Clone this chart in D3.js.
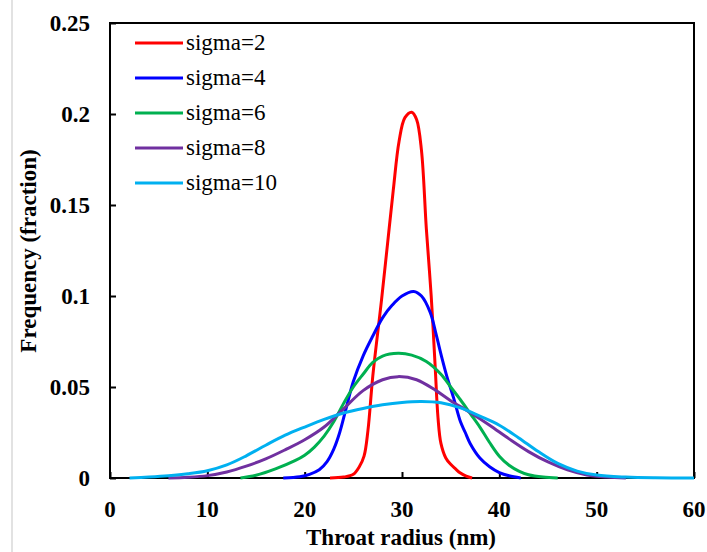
<!DOCTYPE html>
<html>
<head>
<meta charset="utf-8">
<script src="https://cdn.jsdelivr.net/npm/d3@7"></script>
<style>
  body { margin: 0; background: #fff; }
  svg { display: block; }
  .tick-label { font-family: "Liberation Serif", "Times New Roman", serif; font-weight: bold; font-size: 23px; fill: #000; }
  .axis-title { font-family: "Liberation Serif", "Times New Roman", serif; font-weight: bold; font-size: 23px; fill: #000; }
  .legend-label { font-family: "Liberation Serif", "Times New Roman", serif; font-size: 23px; fill: #000; }
</style>
</head>
<body>
<div id="chart"></div>
<script>
// values: [throat radius (nm), frequency]
const sigma2 = [[22.6,0],[24,0.0005],[25,0.002],[25.6,0.006],[26.1,0.012],[26.5,0.026],[27,0.056],[27.9,0.098],
  [28.5,0.128],[29.1,0.158],[29.7,0.185],[30.3,0.198],[31,0.201],[31.5,0.197],[32,0.18],[32.5,0.137],[33,0.1],
  [33.4,0.062],[33.7,0.033],[34,0.019],[34.5,0.011],[35,0.0075],[35.5,0.005],[36,0.0027],[36.6,0.001],[37.2,0]];
const sigma4 = [[17.8,0],[19.5,0.0007],[20.5,0.002],[21.5,0.0045],[22.3,0.009],[23,0.016],[23.6,0.025],
  [24.2,0.037],[25,0.053],[26,0.067],[27,0.078],[28,0.088],[29,0.095],[30,0.1],[31.2,0.1025],[32,0.1],
  [32.9,0.091],[33.5,0.079],[34.1,0.066],[34.6,0.056],[35.3,0.044],[36,0.031],[36.5,0.025],[37,0.019],
  [38,0.011],[39,0.0062],[40,0.003],[41,0.0012],[42.2,0]];
const sigma6 = [[13.4,0],[15,0.0015],[17,0.005],[19,0.0095],[20,0.0125],[21,0.017],[22,0.023],[23,0.031],
  [24,0.041],[25,0.05],[26,0.057],[27,0.0635],[28,0.067],[29.6,0.0685],[31,0.0675],[32.5,0.064],[34,0.057],
  [35,0.05],[36,0.043],[37,0.0355],[38,0.028],[39,0.0195],[40,0.012],[41,0.007],[42,0.0038],[43,0.0018],
  [44.5,0.0005],[46,0]];
const sigma8 = [[6,0],[8,0.0004],[10,0.0013],[12,0.0033],[14,0.0065],[16,0.0105],[18,0.0155],[20,0.021],
  [22,0.028],[24,0.038],[26,0.048],[28,0.054],[29.6,0.0557],[31.5,0.054],[33.5,0.048],[35,0.0425],[37,0.036],
  [39,0.029],[41,0.0215],[43,0.0145],[45,0.0088],[47,0.0045],[49,0.0017],[51,0.0005],[53,0]];
const sigma10 = [[2,0],[4,0.0005],[6,0.0012],[8,0.0023],[10,0.004],[12,0.0072],[14,0.0122],[16,0.018],
  [18,0.0235],[20,0.028],[22,0.0322],[24,0.0357],[26,0.0382],[28,0.0402],[30,0.0415],[32,0.042],[34,0.0413],
  [36,0.0385],[38,0.034],[40,0.029],[42,0.022],[44,0.0145],[46,0.008],[48,0.0038],[50,0.0016],[53,0.0005],
  [56,0.0001],[60,0]];

const seriesNames = ["sigma=2", "sigma=4", "sigma=6", "sigma=8", "sigma=10"];
const seriesData = [sigma2, sigma4, sigma6, sigma8, sigma10];
const seriesColors = ["#ff0000", "#0000ff", "#00b050", "#7030a0", "#00b0f0"];

const xTicks = [0, 10, 20, 30, 40, 50, 60];
const yTicks = [0, 0.05, 0.1, 0.15, 0.2, 0.25];

const width = 707, height = 552;
const margin = { top: 23, right: 13, bottom: 74, left: 110 };

const svg = d3.select("#chart").append("svg")
  .attr("width", width)
  .attr("height", height);

// faint border line on the left of the picture
svg.append("line")
  .attr("x1", 12).attr("x2", 12).attr("y1", 0).attr("y2", height)
  .attr("stroke", "#d9d9d9").attr("stroke-width", 1.5);

const x = d3.scaleLinear().domain([0, 60]).range([margin.left, width - margin.right]);
const y = d3.scaleLinear().domain([0, 0.25]).range([height - margin.bottom, margin.top]);

// plot frame
svg.append("rect")
  .attr("x", x(0)).attr("y", y(0.25))
  .attr("width", x(60) - x(0)).attr("height", y(0) - y(0.25))
  .attr("fill", "none").attr("stroke", "#000").attr("stroke-width", 2);

// inward tick marks
const xAxis = svg.append("g")
  .attr("transform", `translate(0,${y(0)})`)
  .call(d3.axisBottom(x).tickValues(xTicks).tickSizeInner(-6).tickSizeOuter(0).tickFormat(""));
const yAxis = svg.append("g")
  .attr("transform", `translate(${x(0)},0)`)
  .call(d3.axisLeft(y).tickValues(yTicks).tickSizeInner(-6).tickSizeOuter(0).tickFormat(""));
[xAxis, yAxis].forEach(g => {
  g.select(".domain").remove();
  g.selectAll(".tick line").attr("stroke", "#000").attr("stroke-width", 2);
});

// tick labels
svg.selectAll(".xlab").data(xTicks).join("text")
  .attr("class", "tick-label")
  .attr("x", d => x(d)).attr("y", 517)
  .attr("text-anchor", "middle")
  .text(d => d);
svg.selectAll(".ylab").data(yTicks).join("text")
  .attr("class", "tick-label")
  .attr("x", 90).attr("y", d => y(d) + 8)
  .attr("text-anchor", "end")
  .text(d => d);

// axis titles
svg.append("text").attr("class", "axis-title")
  .attr("x", 401).attr("y", 545)
  .attr("text-anchor", "middle")
  .text("Throat radius (nm)");
svg.append("text").attr("class", "axis-title")
  .attr("transform", "translate(36,251) rotate(-90)")
  .attr("text-anchor", "middle")
  .text("Frequency (fraction)");

// curves
const line = d3.line()
  .x(d => x(d[0]))
  .y(d => Math.min(y(d[1]), y(0)))
  .curve(d3.curveCatmullRom.alpha(0.5));

svg.selectAll(".curve").data(seriesData).join("path")
  .attr("class", "curve")
  .attr("d", line)
  .attr("fill", "none")
  .attr("stroke", (d, i) => seriesColors[i])
  .attr("stroke-width", 3)
  .attr("stroke-linejoin", "round");

// legend
const legend = svg.append("g").selectAll("g").data(seriesNames).join("g")
  .attr("transform", (d, i) => `translate(135,${43 + i * 35})`);
legend.append("line")
  .attr("x1", 0).attr("x2", 48)
  .attr("stroke", (d, i) => seriesColors[i])
  .attr("stroke-width", 3);
legend.append("text")
  .attr("class", "legend-label")
  .attr("x", 51).attr("y", 7)
  .text(d => d);
</script>
</body>
</html>
